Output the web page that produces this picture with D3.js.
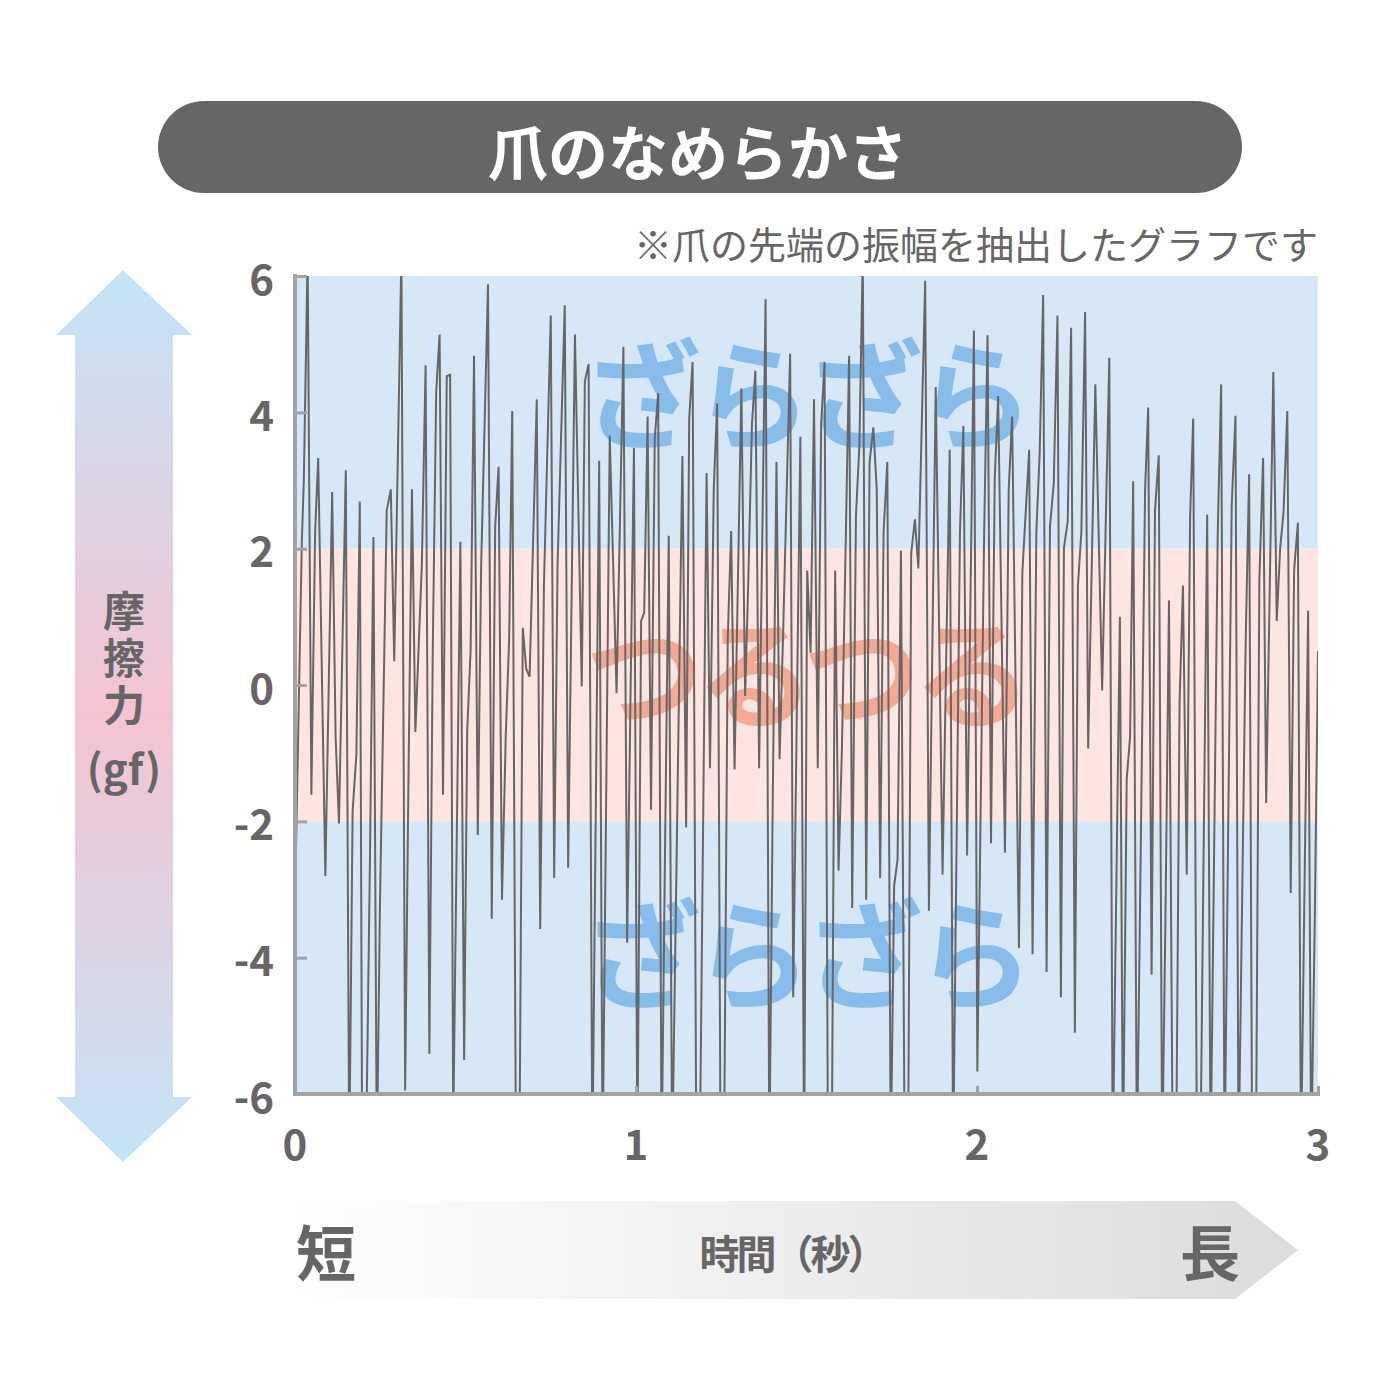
<!DOCTYPE html>
<html><head><meta charset="utf-8">
<script src="https://cdn.jsdelivr.net/npm/d3@7"></script>
<style>
html,body{margin:0;padding:0;background:#fff;}
svg text{font-family:"Noto Sans CJK JP","Noto Sans",sans-serif;}
</style></head>
<body><svg id="c" width="1400" height="1400"></svg>
<script>
const titleText = "爪のなめらかさ";
const noteText = "※爪の先端の振幅を抽出したグラフです";
const yLabelMain = "摩擦力";
const yLabelUnit = "(gf)";
const xLabel = "時間（秒）";
const xShort = "短", xLong = "長";
const bandLabels = ["ざらざら","つるつる","ざらざら"];
const xTicks = [0,1,2,3];
const yTicks = [6,4,2,0,-2,-4,-6];
const bands = [[2,6],[-2,2],[-6,-2]];

const times = [0,0.020,0.026,0.037,0.048,0.059,0.068,0.089,0.109,0.119,0.129,0.149,0.159,0.169,0.180,0.190,0.197,0.208,0.220,0.230,0.240,0.249,0.269,0.281,0.291,0.312,0.323,0.332,0.343,0.353,0.372,0.383,0.394,0.404,0.414,0.424,0.434,0.445,0.455,0.464,0.485,0.496,
0.505,0.515,0.525,0.536,0.546,0.566,0.577,0.587,0.597,0.607,0.618,0.628,0.637,0.648,0.658,0.668,0.678,0.688,0.709,0.719,0.730,0.750,0.760,0.770,0.791,0.801,0.821,0.841,0.850,0.861,0.872,0.892,0.902,0.923,0.943,0.963,0.974,0.994,
1.004,1.015,1.024,1.034,1.044,1.055,1.065,1.075,1.085,1.096,1.106,1.117,1.136,1.147,1.156,1.166,1.177,1.187,1.207,1.217,1.228,1.238,1.248,1.258,1.269,1.279,1.289,1.309,1.320,1.329,1.340,1.350,1.361,1.380,1.391,1.401,1.412,1.421,1.431,1.452,1.461,1.482,1.493,
1.502,1.512,1.522,1.533,1.543,1.553,1.563,1.574,1.584,1.594,1.604,1.625,1.634,1.645,1.655,1.665,1.675,1.685,1.696,1.706,1.716,1.726,1.737,1.747,1.757,1.767,1.777,1.788,1.798,1.807,1.818,1.828,1.848,1.859,1.879,1.899,1.920,1.930,1.950,1.960,1.971,1.991,
2.001,2.021,2.031,2.041,2.052,2.062,2.082,2.093,2.103,2.123,2.133,2.153,2.163,2.174,2.184,2.194,2.204,2.214,2.225,2.236,2.246,2.255,2.266,2.276,2.287,2.296,2.306,2.317,2.326,2.347,2.367,2.388,2.398,2.419,2.428,2.439,2.449,2.458,2.469,
2.493,2.502,2.512,2.522,2.533,2.543,2.553,2.563,2.574,2.584,2.594,2.604,2.615,2.625,2.634,2.645,2.655,2.675,2.685,2.706,2.716,2.726,2.747,2.758,2.767,2.788,2.798,2.807,2.818,2.828,2.839,2.848,2.869,2.879,2.889,2.899,2.910,2.920,2.930,2.941,2.950,2.971,2.980,2.991,3.0];

const force = [-3.2,2.09,3.03,6.3,-1.61,2.24,3.33,-2.80,2.83,-0.75,-2.03,3.15,-7,-1.85,-1.02,2.69,-7,-7,-2.48,2.17,-7,-3.27,2.56,2.87,0.35,6.3,-5.95,-1.7,2.87,-0.69,1.77,4.69,-5.41,0.51,4.29,5.14,-1.61,4.53,4.55,-6.5,2.10,-5.5,
-0.67,0.51,4.83,-2.20,1.77,5.88,-3.43,2.32,3.20,-3.15,-0.75,0.67,4.02,-7,-7,0.84,0.24,0.12,4.19,-3.58,1.46,5.42,-2.83,1.77,5.57,-2.68,5.14,-0.02,4.45,4.71,-7,3.29,-7,3.66,-0.12,4.96,-3.78,3.48,
-7,0.94,1.06,3.94,-1.83,3.62,4.28,-7,-2.48,2.19,-7,-3.27,3.36,-2.09,3.90,4.74,-7,-7,3.11,-1.22,2.87,4.13,-7,-7,0.67,2.26,-1.24,4.35,-0.16,1.46,3.82,4.61,-1.22,5.66,-7,-1.7,3.27,-1.09,0.67,4.86,-4.58,3.64,-7,
1.68,0.47,4.19,-1.22,3.82,4.74,-7,-7,1.68,-2.72,-0.91,4.83,-3.27,2.48,3.50,6.3,-3.15,3.27,3.78,2.87,-2.83,2.24,3.27,-7,-2.95,-2.56,1.97,-7,-7,1.93,2.43,1.71,5.93,-3.31,4.37,-2.78,3.45,-7,2.24,3.80,-2.50,5.20,
-5.67,2.24,5.13,-2.32,3.02,4.24,-2.46,2.87,3.94,-3.86,1.65,3.45,-3.95,2.24,3.43,5.72,-4.21,2.32,2.95,5.42,-4.58,2.01,2.40,5.24,-5.10,1.46,2.24,5.47,-0.93,4.41,-0.08,4.80,-7,1.0,-7,-1.38,-0.75,2.99,-7,
2.87,4.07,-4.25,2.56,3.37,-7,-3.27,1.24,-7,-7,-0.28,1.46,-2.78,2.48,3.91,-7,-7,2.50,-7,2.24,4.41,-7,2.64,3.95,-7,0.67,3.09,-7,-7,1.54,3.33,-1.73,4.59,0.94,2.0,2.54,4.02,-3.05,1.69,2.38,-7,1.09,-7,-3.27,0.5];

const svg = d3.select("#c");
const grey = "#666666";
const defs = svg.append("defs");

// Title pill
svg.append("rect").attr("x",158).attr("y",101).attr("width",1084).attr("height",92)
  .attr("rx",46).attr("fill","#666666");
svg.append("text").attr("x",698).attr("y",149).attr("text-anchor","middle")
  .attr("dominant-baseline","central").attr("fill","#fff").attr("font-weight",700)
  .attr("font-size",60).text(titleText);

// Note
svg.append("text").attr("x",1318).attr("y",242).attr("text-anchor","end")
  .attr("dominant-baseline","central").attr("fill",grey).attr("font-size",38)
  .text(noteText);

// Scales
const x = d3.scaleLinear().domain([0,3]).range([295,1318]);
const y = d3.scaleLinear().domain([-6,6]).range([1094,276]);

// Bands
const bandColors = ["#d6e8f8","#fee5e2","#d6e8f8"];
svg.append("g").selectAll("rect").data(bands).join("rect")
  .attr("x",x(0)).attr("width",x(3)-x(0))
  .attr("y",d=>y(d[1])).attr("height",d=>y(d[0])-y(d[1]))
  .attr("fill",(d,i)=>bandColors[i]);

// Band watermark labels
const bandTextColors = ["#88bdeb","#f3a994","#88bdeb"];
const bandTextY = [388,667,948];
svg.append("g").selectAll("text").data(bandLabels).join("text")
  .attr("x",805).attr("y",(d,i)=>bandTextY[i]).attr("text-anchor","middle")
  .attr("dominant-baseline","central").attr("font-weight",700).attr("font-size",118)
  .attr("letter-spacing",-7)
  .attr("fill",(d,i)=>bandTextColors[i]).text(d=>d);

// Line clipped to plot
defs.append("clipPath").attr("id","plotclip").append("rect")
  .attr("x",x(0)).attr("y",y(6)).attr("width",x(3)-x(0)).attr("height",y(-6)-y(6));
const pts = times.map((t,i)=>[t,force[i]]);
svg.append("path").datum(pts).attr("clip-path","url(#plotclip)")
  .attr("fill","none").attr("stroke","#666666").attr("stroke-width",2)
  .attr("stroke-linejoin","miter")
  .attr("d",d3.line().x(d=>x(d[0])).y(d=>y(d[1])));

// Axes
const axisColor = "#a3a3a3";
const yAxis = svg.append("g").attr("transform",`translate(${x(0)},0)`)
  .call(d3.axisLeft(y).tickValues(yTicks).tickSize(-12).tickFormat(""));
const xAxis = svg.append("g").attr("transform",`translate(0,${y(-6)})`)
  .call(d3.axisBottom(x).tickValues(xTicks).tickSize(-8).tickFormat(""));
[yAxis,xAxis].forEach(g=>{
  g.select(".domain").attr("stroke",axisColor).attr("stroke-width",4);
  g.selectAll(".tick line").attr("stroke",axisColor).attr("stroke-width",3);
});
yAxis.select(".domain").attr("d",`M0,${y(6)-2}V${y(-6)+2}`);
xAxis.select(".domain").attr("d",`M${x(0)-2},0H${x(3)+2}`);

// Tick labels
svg.append("g").selectAll("text").data(yTicks).join("text")
  .attr("x",274).attr("y",d=>y(d)).attr("text-anchor","end")
  .attr("dominant-baseline","central").attr("fill",grey).attr("font-weight",700)
  .attr("font-size",42).text(d=>d);
svg.append("g").selectAll("text").data(xTicks).join("text")
  .attr("x",d=>x(d)).attr("y",1141).attr("text-anchor","middle")
  .attr("dominant-baseline","central").attr("fill",grey).attr("font-weight",700)
  .attr("font-size",42).text(d=>d);

// Vertical double arrow
const vg = defs.append("linearGradient").attr("id","vgrad").attr("x1",0).attr("y1",0).attr("x2",0).attr("y2",1)
  .attr("gradientUnits","objectBoundingBox");
vg.append("stop").attr("offset","0%").attr("stop-color","#c3e4f7");
vg.append("stop").attr("offset","50%").attr("stop-color","#f4c3d2");
vg.append("stop").attr("offset","100%").attr("stop-color","#c3e4f7");
svg.append("path").attr("fill","url(#vgrad)")
  .attr("d","M123,270 L192,335 L173,335 L173,1097 L192,1097 L123,1162 L56,1097 L75,1097 L75,335 L56,335 Z");
svg.append("text").attr("x",124).attr("y",590)
  .style("writing-mode","vertical-rl").attr("text-anchor","start")
  .attr("fill",grey).attr("font-weight",700).attr("font-size",42)
  .attr("letter-spacing",5).text(yLabelMain);
svg.append("text").attr("x",124).attr("y",766).attr("text-anchor","middle")
  .attr("dominant-baseline","central").attr("fill",grey).attr("font-weight",700)
  .attr("font-size",42).text(yLabelUnit);

// Horizontal arrow
const hg = defs.append("linearGradient").attr("id","hgrad").attr("x1",0).attr("y1",0).attr("x2",1).attr("y2",0);
hg.append("stop").attr("offset","0%").attr("stop-color","#ffffff");
hg.append("stop").attr("offset","100%").attr("stop-color","#dcdcdc");
svg.append("path").attr("fill","url(#hgrad)")
  .attr("d","M281,1201 L1235,1201 L1298,1250 L1235,1299 L281,1299 Z");
svg.append("text").attr("x",326).attr("y",1249).attr("text-anchor","middle")
  .attr("dominant-baseline","central").attr("fill",grey).attr("font-weight",700)
  .attr("font-size",60).text(xShort);
svg.append("text").attr("x",1210).attr("y",1249).attr("text-anchor","middle")
  .attr("dominant-baseline","central").attr("fill",grey).attr("font-weight",700)
  .attr("font-size",60).text(xLong);
svg.append("text").attr("x",792).attr("y",1252).attr("text-anchor","middle")
  .attr("dominant-baseline","central").attr("fill",grey).attr("font-weight",700)
  .attr("font-size",40).attr("letter-spacing",-3).text(xLabel);
</script></body></html>
